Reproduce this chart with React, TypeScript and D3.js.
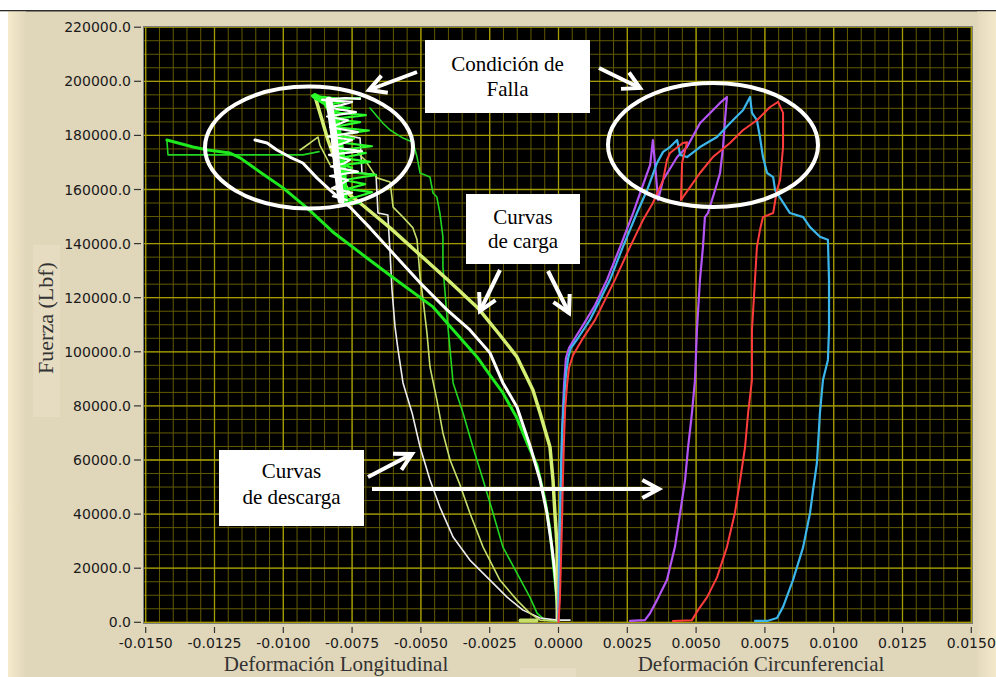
import React from 'react';
import * as d3 from 'd3';

type Pt = [number, number];

// ---- Longitudinal strain traces (negative strain), load in lbf ----
const greenLoad: Pt[] = [
  [-0.00002, 800], [-0.00002, 2700], [-0.00009, 11900], [-0.0002, 23000], [-0.00031, 34100],
  [-0.00049, 45200], [-0.00078, 58100], [-0.00111, 65500], [-0.00151, 75500], [-0.00202, 84800],
  [-0.00249, 91400], [-0.00296, 98100], [-0.00376, 107300], [-0.00456, 116600], [-0.00576, 125500],
  [-0.00696, 134700], [-0.0082, 144300], [-0.00914, 153200], [-0.01001, 160600], [-0.01085, 166500],
  [-0.01157, 171700], [-0.01194, 173500], [-0.01274, 174600], [-0.01328, 175700], [-0.01423, 178300],
];
const greenBox: Pt[] = [
  [-0.01423, 178300], [-0.01419, 172800], [-0.00929, 172800], [-0.0087, 174000],
];
const greenCore: Pt[] = [
  [-0.00776, 155000], [-0.00783, 170000], [-0.00805, 185000], [-0.00845, 192000], [-0.00885, 194500],
];
const greenFailure: Pt[] = [
  [-0.00776, 154300], [-0.00721, 155000], [-0.00772, 156100], [-0.00678, 159000], [-0.00769, 160200],
  [-0.00703, 162000], [-0.00779, 163500], [-0.00663, 165400], [-0.00772, 166500], [-0.00750, 168000],
  [-0.00783, 169100], [-0.00685, 170200], [-0.00787, 171700], [-0.00700, 173500], [-0.00794, 174600],
  [-0.00678, 176000], [-0.00801, 177500], [-0.00743, 178800], [-0.00809, 180100], [-0.00689, 181800],
  [-0.00816, 183100], [-0.00721, 184900], [-0.00823, 186000], [-0.00700, 187500], [-0.00830, 188600],
  [-0.00758, 190100], [-0.00845, 191200], [-0.00780, 192400], [-0.00874, 193100],
  [-0.00896, 194600], [-0.00849, 194200], [-0.00794, 193500], [-0.00721, 193800],
];
const greenUnload: Pt[] = [
  [-0.00685, 190100], [-0.00638, 184500], [-0.00612, 182000], [-0.00565, 179000], [-0.00529, 177500],
  [-0.00514, 172000], [-0.00503, 166100], [-0.00467, 164600], [-0.00456, 158700], [-0.00442, 157200],
  [-0.00431, 151300], [-0.0042, 142500], [-0.0042, 131400], [-0.00413, 122900], [-0.00405, 112900],
  [-0.00394, 100700], [-0.00383, 88500], [-0.00347, 77400], [-0.00311, 64800], [-0.00274, 52600],
  [-0.00238, 40400], [-0.00202, 27800], [-0.00151, 18200], [-0.00104, 9300], [-0.00078, 3400],
  [-0.00049, 800], [-0.00009, 500],
];

const whiteLoad: Pt[] = [
  [-0.00005, 800], [-0.00005, 8200], [-0.00013, 18200], [-0.00024, 27800], [-0.00042, 40400],
  [-0.00067, 52600], [-0.00104, 65500], [-0.00151, 79600], [-0.00202, 88500], [-0.00249, 99600],
  [-0.00322, 108100], [-0.00405, 115500], [-0.00503, 125500], [-0.00612, 137600], [-0.00685, 145800],
  [-0.00758, 153500], [-0.0083, 159800], [-0.00878, 164300], [-0.00929, 169800], [-0.00976, 172000],
  [-0.01023, 174600], [-0.01059, 177200], [-0.01103, 178300],
];
const whiteCore: Pt[] = [
  [-0.00790, 156000], [-0.00805, 168000], [-0.00816, 180000], [-0.00827, 188000], [-0.00834, 193000],
];
const whiteFailure: Pt[] = [
  [-0.00769, 156100], [-0.0082, 157500], [-0.0075, 158800], [-0.00823, 160500], [-0.00790, 162000],
  [-0.00765, 163500], [-0.0083, 165000], [-0.00729, 166600], [-0.00827, 168500], [-0.00780, 169600],
  [-0.00758, 170900], [-0.00834, 172800], [-0.00714, 174200], [-0.0083, 175700], [-0.0079, 176800],
  [-0.0075, 178300], [-0.00838, 179600], [-0.00729, 181200], [-0.0083, 183000], [-0.00798, 184200],
  [-0.00765, 185600], [-0.00841, 187000], [-0.00736, 188600], [-0.00838, 190300], [-0.00790, 191200],
  [-0.0075, 192400], [-0.00859, 193100], [-0.00776, 193800], [-0.00721, 193500],
];
const whiteUnload: Pt[] = [
  [-0.00776, 180100], [-0.00721, 179000], [-0.00714, 166100], [-0.00663, 165400], [-0.00656, 151300],
  [-0.0062, 150600], [-0.00612, 136500], [-0.00605, 122900], [-0.00594, 109200], [-0.00583, 100700],
  [-0.00565, 88500], [-0.00532, 77400], [-0.00503, 64800], [-0.00467, 52600], [-0.00431, 42600],
  [-0.00383, 31500], [-0.00322, 23000], [-0.00249, 15600], [-0.00187, 9300], [-0.00129, 4500],
  [-0.00067, 1600], [-0.00005, 800], [0.00042, 800],
];

const limeLoad: Pt[] = [
  [-0.00002, 800], [-0.00005, 15600], [-0.00005, 27800], [-0.00013, 40400], [-0.0002, 52600],
  [-0.00031, 64800], [-0.00067, 77400], [-0.00093, 85900], [-0.00151, 98100], [-0.00213, 106200],
  [-0.00293, 116200], [-0.00394, 125800], [-0.00503, 135800], [-0.00612, 145800], [-0.00721, 155000],
  [-0.00758, 157900], [-0.00783, 163500], [-0.00812, 170900], [-0.00838, 178300], [-0.00859, 185600],
  [-0.00881, 193100],
];
const limeKink: Pt[] = [
  [-0.00939, 174600], [-0.00903, 177200], [-0.00874, 179400], [-0.00867, 176400], [-0.0083, 169100],
];
const limeUnload: Pt[] = [
  [-0.0074, 174600], [-0.00703, 170900], [-0.0066, 164300], [-0.00612, 162800], [-0.00601, 153500],
  [-0.00565, 149800], [-0.00529, 145800], [-0.00514, 141400], [-0.00503, 127700], [-0.00492, 119200],
  [-0.00478, 107000], [-0.00467, 94400], [-0.00442, 82200], [-0.0042, 70000], [-0.00394, 60000],
  [-0.00358, 50800], [-0.00322, 40400], [-0.00274, 27800], [-0.00213, 15600], [-0.00151, 8200],
  [-0.00104, 3400], [-0.00067, 800], [-0.00013, 500],
];
const limeTail: Pt[] = [[-0.00138, 700], [-0.0008, 700]];

// ---- Circumferential strain traces (positive strain) ----
const purpleTrace: Pt[] = [
  [0, 500], [0, 8200], [0.00002, 23000], [0.00005, 37800], [0.00009, 52600], [0.00013, 67400],
  [0.00016, 78500], [0.0002, 87700], [0.00024, 93300], [0.00027, 97700], [0.00038, 101400],
  [0.0006, 105100], [0.00096, 111000], [0.00133, 117300], [0.00176, 126600], [0.00224, 138800],
  [0.00271, 151300], [0.00307, 161700], [0.00333, 169100], [0.00343, 178300], [0.00354, 165400],
  [0.00362, 156100], [0.0038, 163500], [0.00431, 172000], [0.00467, 175700], [0.00514, 184500],
  [0.00551, 188300], [0.00587, 192000], [0.00612, 194200], [0.00605, 185600], [0.00598, 175700],
  [0.00587, 166100], [0.00569, 159800], [0.00543, 151300], [0.00532, 149800], [0.00525, 138800],
  [0.00514, 126600], [0.00503, 108100], [0.00496, 89600], [0.00485, 77400], [0.00471, 64800],
  [0.0046, 52600], [0.00442, 40400], [0.00423, 27800], [0.00394, 15600], [0.00358, 8200],
  [0.00333, 3400], [0.00314, 800], [0.0026, 500],
];
const blueTrace: Pt[] = [
  [0, 500], [0.00002, 15600], [0.00005, 37800], [0.00009, 56300], [0.00013, 71100], [0.0002, 82200],
  [0.00027, 91400], [0.00035, 97700], [0.00045, 101400], [0.00071, 105100], [0.00114, 111800],
  [0.00151, 119200], [0.00187, 126600], [0.00234, 138800], [0.00285, 151300], [0.00322, 159800],
  [0.00358, 169800], [0.0038, 173900], [0.00405, 175700], [0.00431, 178300], [0.00442, 172800],
  [0.00467, 172000], [0.00514, 175700], [0.00576, 179400], [0.00623, 184500], [0.00671, 189400],
  [0.00696, 194200], [0.00703, 188300], [0.00721, 185600], [0.00732, 179400], [0.00743, 172000],
  [0.00758, 166100], [0.0078, 164600], [0.00787, 159800], [0.00841, 151300], [0.00889, 149800],
  [0.00914, 146100], [0.0095, 142500], [0.00979, 141400], [0.00983, 126600], [0.00983, 108100],
  [0.00979, 97000], [0.00961, 89600], [0.0095, 77400], [0.00939, 58900], [0.00925, 48900],
  [0.00914, 40400], [0.00889, 27800], [0.00852, 15600], [0.00816, 5700], [0.00794, 1600],
  [0.00758, 500], [0.00714, 500],
];
const redTrace: Pt[] = [
  [0, 100], [0.00005, 8200], [0.00009, 23000], [0.00013, 37800], [0.00016, 52600], [0.0002, 67400],
  [0.00024, 78500], [0.00031, 87700], [0.00038, 94000], [0.00053, 98800], [0.00085, 104400],
  [0.00133, 111800], [0.00169, 119200], [0.00205, 126600], [0.0026, 138800], [0.00307, 148700],
  [0.00343, 155000], [0.0038, 163500], [0.00394, 170900], [0.00405, 173500], [0.00452, 177200],
  [0.00467, 177500], [0.00449, 169800], [0.00445, 156100], [0.00478, 160900], [0.00514, 166100],
  [0.00561, 172000], [0.00623, 177200], [0.00671, 182000], [0.00721, 185600], [0.00769, 190500],
  [0.00798, 192400], [0.00816, 188300], [0.00816, 175700], [0.00805, 163500], [0.00794, 159800],
  [0.0078, 151300], [0.00743, 149800], [0.00732, 145000], [0.00721, 138800], [0.00714, 126600],
  [0.00703, 108100], [0.00703, 89600], [0.00689, 77400], [0.00678, 64800], [0.0066, 52600],
  [0.00641, 40400], [0.00612, 27800], [0.00576, 16600], [0.0054, 9300], [0.00507, 4500],
  [0.00485, 800], [0.00416, 500],
];

// ---- Axes ----
const xTickSteps = [-6, -5, -4, -3, -2, -1, 0, 1, 2, 3, 4, 5, 6];
const xTickStep = 0.0025;
const yTickValues = [0, 20000, 40000, 60000, 80000, 100000, 120000, 140000, 160000, 180000, 200000, 220000];
const xTitleLeft = 'Deformación Longitudinal';
const xTitleRight = 'Deformación Circunferencial';
const yTitle = 'Fuerza (Lbf)';

const W = 996;
const H = 677;
const PL = 144, PT = 27, PR = 972, PB = 623;

const x = d3.scaleLinear().domain([-0.015, 0.015]).range([145.7, 971.3]);
const y = d3.scaleLinear().domain([0, 220000]).range([622.3, 27.2]);

const loc = d3.formatLocale({ decimal: '.', thousands: ',', grouping: [3], currency: ['', ''], minus: '-' });
const fx = loc.format('.4f');
const fy = loc.format('.1f');

const line = d3.line<Pt>().x((d) => x(d[0])).y((d) => y(d[1]));

type Series = { data: Pt[]; color: string; width: number };
const series: Series[] = [
  { data: greenUnload, color: '#22d622', width: 1.6 },
  { data: whiteUnload, color: '#ececec', width: 1.6 },
  { data: limeUnload, color: '#c6df6c', width: 1.6 },
  { data: limeKink, color: '#c6df6c', width: 1.6 },
  { data: greenBox, color: '#22d622', width: 1.6 },
  { data: limeTail, color: '#c6df6c', width: 4 },
  { data: greenLoad, color: '#1ee81e', width: 3 },
  { data: whiteLoad, color: '#ffffff', width: 3 },
  { data: limeLoad, color: '#d4ef72', width: 3.5 },
  { data: greenCore, color: '#2bff2b', width: 6 },
  { data: greenFailure, color: '#2bff2b', width: 2.2 },
  { data: whiteCore, color: '#ffffff', width: 7 },
  { data: whiteFailure, color: '#ffffff', width: 2.2 },
  { data: purpleTrace, color: '#b455f5', width: 2.2 },
  { data: blueTrace, color: '#3cb6ea', width: 2.2 },
  { data: redTrace, color: '#ff3d3d', width: 2 },
];

function Arrow({ x1, y1, x2, y2 }: { x1: number; y1: number; x2: number; y2: number }) {
  const a = Math.atan2(y2 - y1, x2 - x1);
  const L = 19;
  const s = 0.5;
  const p1 = [x2 - L * Math.cos(a - s), y2 - L * Math.sin(a - s)];
  const p2 = [x2 - L * Math.cos(a + s), y2 - L * Math.sin(a + s)];
  return (
    <g stroke="#ffffff" strokeWidth={4} fill="none">
      <line x1={x1} y1={y1} x2={x2} y2={y2} />
      <polyline points={`${p1[0]},${p1[1]} ${x2},${y2} ${p2[0]},${p2[1]}`} strokeLinejoin="miter" />
    </g>
  );
}

function Note({ x0, y0, w, h, lines, base, gap }: { x0: number; y0: number; w: number; h: number; lines: string[]; base: number; gap: number }) {
  return (
    <g>
      <rect x={x0} y={y0} width={w} height={h} fill="#ffffff" />
      {lines.map((t, i) => (
        <text key={i} x={x0 + w / 2} y={base + i * gap} textAnchor="middle" fontFamily="'Liberation Serif', 'Times New Roman', serif" fontSize={21} fill="#000">
          {t}
        </text>
      ))}
    </g>
  );
}

export default function App() {
  const minorX = d3.range(-30, 31).map((i) => i * 0.0005);
  const minorY = d3.range(0, 45).map((i) => i * 5000);
  return (
    <svg width={W} height={H} style={{ position: 'absolute', left: 0, top: 0 }} xmlns="http://www.w3.org/2000/svg">
      <defs>
        <linearGradient id="leftEdge" x1="0" x2="1" y1="0" y2="0">
          <stop offset="0" stopColor="#f6ebcb" />
          <stop offset="1" stopColor="#e0d6ba" />
        </linearGradient>
        <linearGradient id="rightEdge" x1="0" x2="1" y1="0" y2="0">
          <stop offset="0" stopColor="#e3d9bd" />
          <stop offset="1" stopColor="#f4e9ca" />
        </linearGradient>
        <clipPath id="plotClip">
          <rect x={PL} y={PT} width={PR - PL} height={PB - PT} />
        </clipPath>
      </defs>

      {/* panel */}
      <rect x={0} y={0} width={W} height={H} fill="#e0d6ba" />
      <rect x={0} y={0} width={W} height={10} fill="#ffffff" />
      <rect x={0} y={10} width={W} height={1.5} fill="#2b2b2b" />
      <rect x={0} y={11.5} width={8} height={H} fill="#ffffff" />
      <rect x={8} y={11.5} width={18} height={H} fill="url(#leftEdge)" />
      <rect x={977} y={11.5} width={19} height={H} fill="url(#rightEdge)" />
      <rect x={33} y={245} width={27} height={172} fill="#e5dcc2" />
      <rect x={520} y={668} width={56} height={9} fill="#e6ddc4" />

      {/* plot area */}
      <rect x={PL} y={PT} width={PR - PL} height={PB - PT} fill="#000000" />
      <g clipPath="url(#plotClip)">
        {minorX.map((v, i) => (
          <line key={'mx' + i} x1={x(v)} x2={x(v)} y1={PT} y2={PB} stroke="#625a00" strokeWidth={1} />
        ))}
        {minorY.map((v, i) => (
          <line key={'my' + i} y1={y(v)} y2={y(v)} x1={PL} x2={PR} stroke="#625a00" strokeWidth={1} />
        ))}
        {xTickSteps.map((k) => (
          <line key={'Mx' + k} x1={x(k * xTickStep)} x2={x(k * xTickStep)} y1={PT} y2={PB} stroke="#a49c00" strokeWidth={1.3} />
        ))}
        {yTickValues.map((v) => (
          <line key={'My' + v} y1={y(v)} y2={y(v)} x1={PL} x2={PR} stroke="#a49c00" strokeWidth={1.3} />
        ))}
        {series.map((s, i) => (
          <path key={'s' + i} d={line(s.data) || ''} fill="none" stroke={s.color} strokeWidth={s.width} strokeLinejoin="round" strokeLinecap="round" />
        ))}
      </g>
      <rect x={PL - 0.5} y={PT - 0.5} width={PR - PL + 1} height={PB - PT + 1} fill="none" stroke="#7d7d7d" strokeWidth={1} />

      {/* y axis */}
      {yTickValues.map((v) => (
        <g key={'yt' + v}>
          <line x1={134} x2={141} y1={y(v)} y2={y(v)} stroke="#333" strokeWidth={1.2} />
          <text x={131} y={y(v) + 5} textAnchor="end" fontFamily="'DejaVu Sans', sans-serif" fontSize={14} fill="#1a1a1a">
            {fy(v)}
          </text>
        </g>
      ))}
      {/* x axis */}
      {xTickSteps.map((k) => {
        const v = k * xTickStep;
        return (
          <g key={'xt' + k}>
            <line x1={x(v)} x2={x(v)} y1={627} y2={633} stroke="#333" strokeWidth={1.2} />
            <text x={x(v)} y={648} textAnchor="middle" fontFamily="'DejaVu Sans', sans-serif" fontSize={14} fill="#1a1a1a">
              {fx(v)}
            </text>
          </g>
        );
      })}
      <text x={336} y={671} textAnchor="middle" fontFamily="'Liberation Serif', 'Times New Roman', serif" fontSize={21} fill="#333">
        {xTitleLeft}
      </text>
      <text x={761} y={671} textAnchor="middle" fontFamily="'Liberation Serif', 'Times New Roman', serif" fontSize={21} fill="#333">
        {xTitleRight}
      </text>
      <text transform="translate(53,318) rotate(-90)" textAnchor="middle" fontFamily="'Liberation Serif', 'Times New Roman', serif" fontSize={22} fill="#333">
        {yTitle}
      </text>

      {/* failure zones */}
      <ellipse cx={309} cy={147.5} rx={104} ry={61} fill="none" stroke="#ffffff" strokeWidth={4} />
      <ellipse cx={713} cy={145} rx={105} ry={62} fill="none" stroke="#ffffff" strokeWidth={4} />

      {/* annotations */}
      <Note x0={425} y0={40} w={165} h={73} lines={['Condición de', 'Falla']} base={71} gap={25} />
      <Note x0={466} y0={194} w={114} h={70} lines={['Curvas', 'de carga']} base={224} gap={24} />
      <Note x0={219} y0={450} w={145} h={76} lines={['Curvas', 'de descarga']} base={478} gap={26} />

      <Arrow x1={417} y1={72} x2={369} y2={90} />
      <Arrow x1={599} y1={68} x2={640} y2={88} />
      <Arrow x1={500} y1={270} x2={480} y2={311} />
      <Arrow x1={548} y1={271} x2={569} y2={313} />
      <Arrow x1={368} y1={477} x2={412} y2={454} />
      <Arrow x1={372} y1={489} x2={659} y2={489} />
    </svg>
  );
}
